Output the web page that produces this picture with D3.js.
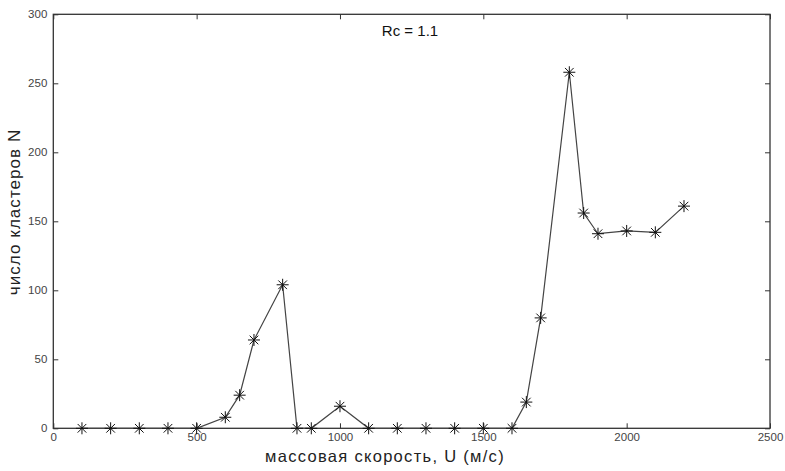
<!DOCTYPE html>
<html><head><meta charset="utf-8">
<script src="https://cdn.jsdelivr.net/npm/d3@7"></script>
<style>body{margin:0;background:#fff}svg{display:block}text{font-family:"Liberation Sans",Arial,sans-serif}</style>
</head><body><svg id="c" width="785" height="471"></svg>
<script>
const speeds = [100,200,300,400,500,600,650,700,800,850,900,1000,1100,1200,1300,1400,1500,1600,1650,1700,1800,1850,1900,2000,2100,2200];
const clusters = [0,0,0,0,0,8,24,64,104,0,0,16,0,0,0,0,0,0,19,80,258,156,141,143,142,161];
const xTicks = [0,500,1000,1500,2000,2500];
const yTicks = [0,50,100,150,200,250,300];
const title = "Rc = 1.1";
const xLabel = "массовая скорость, U (м/с)";
const yLabel = "число кластеров  N";

const svg = d3.select("#c");
const L=53.3, R=770, T=14.3, B=428.3;
const x = d3.scaleLinear().domain([0,2500]).range([L,R]);
const y = d3.scaleLinear().domain([0,300]).range([B,T]);

const lc="#333";
svg.append("rect").attr("x",L).attr("y",T).attr("width",R-L).attr("height",B-T)
  .attr("fill","none").attr("stroke",lc).attr("stroke-width",1.3);

const xb = svg.append("g").attr("transform",`translate(0,${B})`)
  .call(d3.axisBottom(x).tickValues(xTicks).tickSize(-5).tickPadding(5).tickFormat(d3.format("d")));
const xt = svg.append("g").attr("transform",`translate(0,${T})`)
  .call(d3.axisTop(x).tickValues(xTicks).tickSize(-5).tickFormat(""));
const yl = svg.append("g").attr("transform",`translate(${L},0)`)
  .call(d3.axisLeft(y).tickValues(yTicks).tickSize(-5).tickPadding(6).tickFormat(d3.format("d")));
const yr = svg.append("g").attr("transform",`translate(${R},0)`)
  .call(d3.axisRight(y).tickValues(yTicks).tickSize(-5).tickFormat(""));
[xb,xt,yl,yr].forEach(g=>{
  g.select(".domain").remove();
  g.selectAll(".tick line").attr("stroke",lc).attr("stroke-width",1);
  g.selectAll(".tick text").attr("fill","#444").attr("font-size",11.5);
});

const line = d3.line().x((d,i)=>x(speeds[i])).y(d=>y(d));
svg.append("path").datum(clusters).attr("d",line).attr("fill","none")
  .attr("stroke","#444").attr("stroke-width",1.2);

const s=6;
const star = `M${-s},0L${s},0M0,${-s}L0,${s}M${-s*0.72},${-s*0.72}L${s*0.72},${s*0.72}M${-s*0.72},${s*0.72}L${s*0.72},${-s*0.72}`;
svg.append("g").selectAll("path").data(clusters).join("path")
  .attr("transform",(d,i)=>`translate(${x(speeds[i])},${y(d)})`)
  .attr("d",star).attr("stroke","#111").attr("stroke-width",1).attr("fill","none");

svg.append("text").attr("x",410).attr("y",36).attr("text-anchor","middle")
  .attr("font-size",15).attr("fill","#111").text(title);
svg.append("text").attr("x",385).attr("y",462).attr("text-anchor","middle")
  .attr("font-size",16.5).attr("fill","#222").attr("letter-spacing",1.3).text(xLabel);
svg.append("text").attr("transform","translate(20,212) rotate(-90)").attr("text-anchor","middle")
  .attr("font-size",17).attr("fill","#222").attr("letter-spacing",1.05).text(yLabel);
</script></body></html>
